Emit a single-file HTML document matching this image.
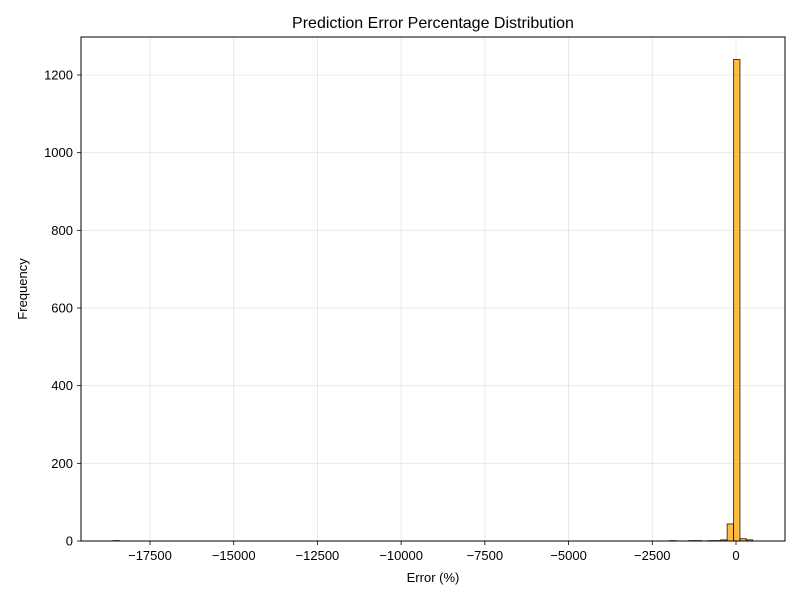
<!DOCTYPE html>
<html><head><meta charset="utf-8"><style>
body{margin:0;background:#fff}
svg text{font-family:"Liberation Sans","DejaVu Sans",sans-serif;fill:#000}
</style></head><body>
<svg id="chart" width="800" height="600" viewBox="0 0 800 600">
<rect x="0" y="0" width="800" height="600" fill="#fff"/>
<g id="grid"></g>
<g id="bars"></g>
<rect x="81" y="37" width="704" height="504" fill="none" stroke="#000" stroke-width="1"/>
<g id="axes"></g>
<text x="433" y="28" font-size="16" text-anchor="middle">Prediction Error Percentage Distribution</text>
<text x="433" y="582" font-size="13" text-anchor="middle">Error (%)</text>
<text x="27" y="289" font-size="13" text-anchor="middle" transform="rotate(-90 27 289)">Frequency</text>
</svg>
<script>
const binStart = -18600;
const binWidth = 191;
const binIndices = [0, 87, 90, 91, 93, 94, 95, 96, 97, 98, 99];
const binCounts = [1, 1, 1, 1, 1, 1, 3, 44, 1240, 6, 3];
const xTicks = [-17500, -15000, -12500, -10000, -7500, -5000, -2500, 0];
const yTicks = [0, 200, 400, 600, 800, 1000, 1200];

const NS = "http://www.w3.org/2000/svg";
function xs(v){ return 736 + v * 0.033486; }
function ys(v){ return 541 - v * 0.38833; }
const grid = document.getElementById('grid');
const bars = document.getElementById('bars');
const axes = document.getElementById('axes');
function mk(tag, attrs, parent){ const e=document.createElementNS(NS,tag); for(const k in attrs) e.setAttribute(k,attrs[k]); parent.appendChild(e); return e; }

xTicks.forEach(t=>{
  const x = xs(t);
  const g = mk('line',{x1:x,x2:x,y1:37,y2:541,stroke:'#000','stroke-opacity':0.1,'stroke-width':0.8},grid);
  
  
  const tk = mk('line',{x1:x,x2:x,y1:541,y2:545,stroke:'#000','stroke-width':0.8},axes);
  
  
  const lb = mk('text',{x:x,y:560,'font-size':13,'text-anchor':'middle'},axes);
  lb.textContent = t < 0 ? '\u2212' + Math.abs(t) : String(t);
  
  
});
yTicks.forEach(t=>{
  const y = ys(t);
  const g = mk('line',{x1:81,x2:785,y1:y,y2:y,stroke:'#000','stroke-opacity':0.1,'stroke-width':0.8},grid);
  
  
  const tk = mk('line',{x1:77,x2:81,y1:y,y2:y,stroke:'#000','stroke-width':0.8},axes);
  
  
  const lb = mk('text',{x:73,y:y+4.5,'font-size':13,'text-anchor':'end'},axes);
  lb.textContent = String(t);
  
  
});
binIndices.forEach((bi,i)=>{
  const x0 = xs(binStart + bi*binWidth), x1 = xs(binStart + (bi+1)*binWidth);
  const y = ys(binCounts[i]);
  const r = mk('rect',{x:x0,y:y,width:x1-x0,height:541-y,fill:'#ffa500','fill-opacity':0.75,stroke:'#000','stroke-opacity':0.7,'stroke-width':1},bars);
  
  
});
</script>
</body></html>
